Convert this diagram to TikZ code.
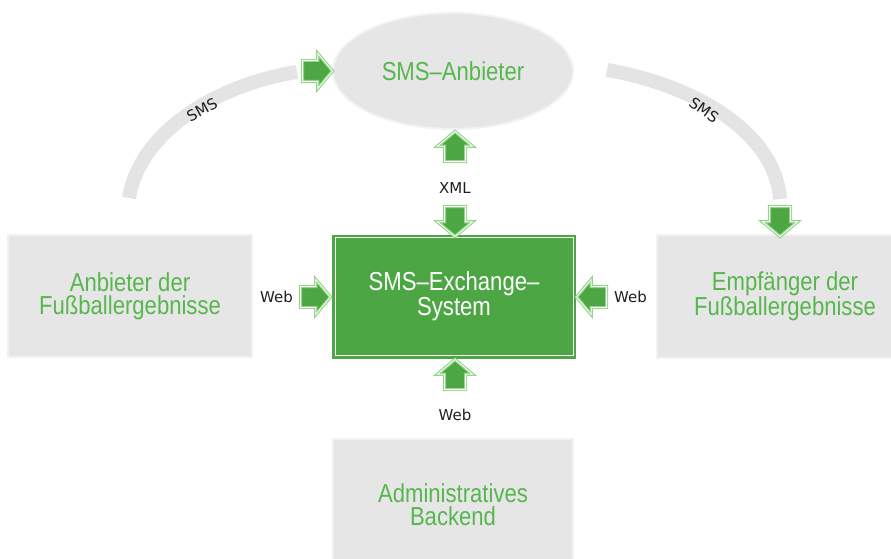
\documentclass[tikz,border=0pt]{standalone}
\usepackage{fontspec}
\setmainfont{Liberation Sans}
\newfontfamily\condfont{Liberation Sans}[FakeStretch=0.85]
\newfontfamily\labfont{DejaVu Sans}
\usetikzlibrary{shapes.geometric,shapes.arrows}
\definecolor{agreen}{RGB}{76,166,68}
\definecolor{tgreen}{RGB}{88,182,78}
\definecolor{alight}{RGB}{150,212,140}
\definecolor{gfill}{RGB}{230,230,230}
\definecolor{gedge}{RGB}{242,242,242}
\definecolor{arcgray}{RGB}{228,228,228}
\tikzset{
  graybox/.style={rectangle, fill=gfill, draw=gedge, line width=2pt, inner sep=0pt,
    text=tgreen, align=center, font=\condfont\fontsize{26}{23}\selectfont},
  greenbox/.style={rectangle, fill=agreen, draw=agreen, line width=1pt, inner sep=0pt,
    text=white, align=center, font=\condfont\fontsize{26}{23}\selectfont},
  blockarrow/.style={single arrow, fill=agreen, draw=alight, double=white, double distance=0.8pt,
    line width=1.2pt, inner sep=10pt, minimum width=0pt, minimum height=27pt,
    single arrow head extend=7pt, single arrow tip angle=100},
  lab/.style={font=\labfont\fontsize{15}{17}\selectfont, text=black!88, inner sep=1pt},
  arcline/.style={draw=arcgray, line width=14pt},
}
\begin{document}
\begin{tikzpicture}[x=1pt,y=-1pt]
\useasboundingbox (0,0) rectangle (891,559);
\clip (0,0) rectangle (891,559);
% nodes
\node[ellipse, fill=gfill, draw=gedge, line width=2pt, minimum width=240pt, minimum height=116pt,
  text=tgreen, font=\condfont\fontsize{26}{23}\selectfont] (anb) at (453,71) {SMS–Anbieter};
\node[graybox, minimum width=244pt, minimum height=122pt] (left) at (130,296) {Anbieter der\\Fußballergebnisse};
\node[greenbox, minimum width=243pt, minimum height=123pt] (sys) at (454,296.5) {SMS–Exchange–\\System};
\draw[white, line width=1pt] ([shift={(3,3)}]sys.north west) rectangle ([shift={(-3,-3)}]sys.south east);
\node[graybox, minimum width=256pt, minimum height=123pt] (right) at (785,296.5) {Empfänger der\\Fußballergebnisse};
\node[graybox, minimum width=240pt, minimum height=132pt] (back) at (453,505) {Administratives\\Backend};
% arcs
\coordinate (l0) at (129,198);
\coordinate (l1) at (297,72);
\coordinate (r0) at (607,70);
\coordinate (r1) at (780,199);
\draw[arcline] (l0) .. controls (140,130) and (220,84) .. (l1);
\draw[arcline] (r0) .. controls (690,84) and (775,130) .. (r1);
\node[lab, rotate=28] (smsl) at (202,110) {SMS};
\node[lab, rotate=-35] (smsr) at (704,110) {SMS};
% arrows
\node[blockarrow] (al) at (313,71) {};
\node[blockarrow, rotate=-90] (ar) at (780,217) {};
\node[blockarrow, rotate=90] (ax1) at (455,151) {};
\node[lab] (xml) at (455,188) {XML};
\node[blockarrow, rotate=-90] (ax2) at (455,217) {};
\node[blockarrow] (aw1) at (311,297) {};
\node[lab, anchor=east] (web1) at (294,297) {Web};
\node[blockarrow, rotate=180] (aw2) at (596,297) {};
\node[lab, anchor=west] (web2) at (613,297) {Web};
\node[blockarrow, rotate=90] (aw3) at (455,379) {};
\node[lab] (web3) at (455,415) {Web};
\end{tikzpicture}
\end{document}
